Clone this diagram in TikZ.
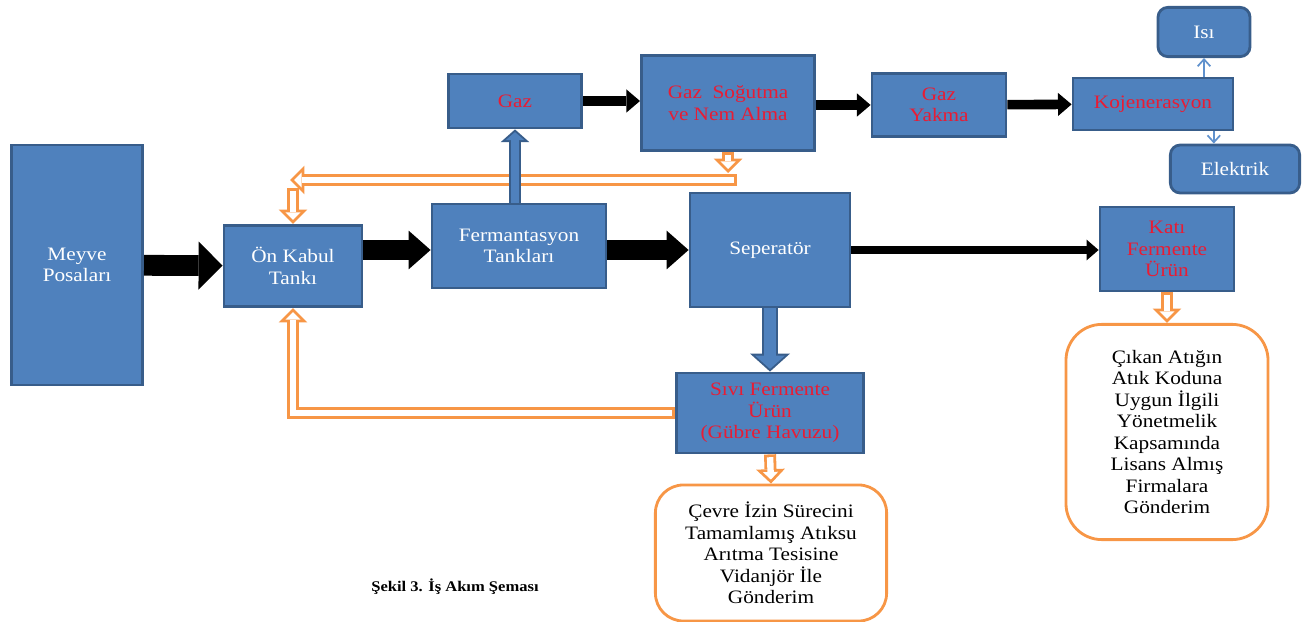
\documentclass[tikz,border=0pt]{standalone}
\usepackage{fontspec}
\setmainfont{Liberation Serif}[FakeStretch=1.12]
\usetikzlibrary{arrows.meta}
\definecolor{boxblue}{RGB}{79,129,189}
\definecolor{boxline}{RGB}{56,93,138}
\definecolor{redtext}{RGB}{232,28,52}
\definecolor{orng}{RGB}{247,150,70}
\definecolor{lightblue}{RGB}{95,145,205}

\begin{document}
\begin{tikzpicture}[x=0.025cm, y=-0.025cm,
		every node/.style={font=\fontsize{13.5}{15.3}\selectfont, align=center, inner sep=2pt},
		box/.style={draw=boxline, fill=boxblue, line width=2pt},
		rbox/.style={box, rounded corners=7pt},
		wtext/.style={text=white},
		rtext/.style={text=redtext},
		outbox/.style={draw=orng, fill=white, line width=2pt, text=black},
		bigarrow/.style={line width=0.52cm, -{Triangle[length=0.6cm,width=1.2cm,line width=0pt]}},
		medarrow/.style={line width=0.48cm, -{Triangle[length=0.55cm,width=0.97cm,line width=0pt]}},
		gasarrow/.style={line width=0.24cm, -{Triangle[length=0.34cm,width=0.58cm,line width=0pt]}},
		thinarrow/.style={line width=0.18cm, -{Triangle[length=0.3cm,width=0.52cm,line width=0pt]}},
		infoarrow/.style={draw=lightblue, line width=1.2pt, -{Straight Barb[length=5pt,width=9pt]}},
		retout/.style={draw=orng, line width=0.3cm, -{Triangle[length=0.36cm,width=0.72cm,line width=0pt]}},
		retin/.style={draw=white, line width=0.16cm, shorten >=0.1cm, shorten <=0.07cm, -{Triangle[length=0.19cm,width=0.38cm,line width=0pt]}},
		gasup/.style={draw=boxline, line width=0.3cm, -{Triangle[length=0.32cm,width=0.72cm,line width=0pt]}},
		gasupin/.style={draw=boxblue, line width=0.2cm, shorten >=0.067cm, -{Triangle[length=0.2cm,width=0.46cm,line width=0pt]}},
		sepdown/.style={draw=boxline, line width=0.4cm, -{Triangle[length=0.45cm,width=1.0cm,line width=0pt]}},
		sepdownin/.style={draw=boxblue, line width=0.3cm, shorten >=0.067cm, -{Triangle[length=0.33cm,width=0.74cm,line width=0pt]}}
	]
	\useasboundingbox (0,0) rectangle (1308,622);

	% main line
	\node[box, wtext, minimum width=3.28cm, minimum height=6cm] (meyve) at (77,265) {Meyve\\Posaları};
	\node[box, wtext, minimum width=3.45cm, minimum height=2.03cm] (onkabul) at (293,266) {Ön Kabul\\Tankı};
	\node[box, wtext, minimum width=4.35cm, minimum height=2.1cm] (ferm) at (519,246) {Fermantasyon\\Tankları};
	\node[box, wtext, minimum width=4cm, minimum height=2.85cm] (sep) at (770,250) {Seperatör};
	\node[box, rtext, minimum width=3.35cm, minimum height=2.1cm] (kati) at (1167,249) {Katı\\Fermente\\Ürün};
	\node[box, rtext, minimum width=4.68cm, minimum height=2cm] (sivi) at (770,413) {Sıvı Fermente\\Ürün\\(Gübre Havuzu)};

	% gas line
	\node[box, rtext, minimum width=3.33cm, minimum height=1.35cm] (gaz) at (515,101) {Gaz};
	\node[box, rtext, minimum width=4.33cm, minimum height=2.38cm] (gazsog) at (728,103) {Gaz\ \ Soğutma\\ve Nem Alma};
	\node[box, rtext, minimum width=3.35cm, minimum height=1.58cm] (yakma) at (939,105) {Gaz\\Yakma};
	\node[box, rtext, minimum width=4cm, minimum height=1.3cm] (kojen) at (1153,104) {Kojenerasyon};
	\node[rbox, wtext, minimum width=2.3cm, minimum height=1.23cm] (isi) at (1204,32) {Isı};
	\node[rbox, wtext, minimum width=3.23cm, minimum height=1.2cm] (elektrik) at (1235,169) {Elektrik};

	% disposal
	\node[outbox, rounded corners=0.7cm, minimum width=5.78cm, minimum height=3.4cm] (cevre) at (771,553) {Çevre İzin Sürecini\\Tamamlamış Atıksu\\Arıtma Tesisine\\Vidanjör İle\\Gönderim};
	\node[outbox, rounded corners=0.9cm, minimum width=5.05cm, minimum height=5.38cm] (cikan) at (1167,432) {Çıkan Atığın\\Atık Koduna\\Uygun İlgili\\Yönetmelik\\Kapsamında\\Lisans Almış\\Firmalara\\Gönderim};

	\node[font=\fontsize{10.5}{12}\selectfont\bfseries] (caption) at (455,587) {Şekil 3. İş Akım Şeması};

	\coordinate (gdrop) at (728,173);
	\coordinate (bandR) at (737,180);
	\coordinate (bandL) at (290,180);
	\coordinate (bandD) at (293,188);

	\draw[bigarrow] (meyve) -- (onkabul);
	\draw[medarrow] (onkabul.east |- 0,250) -- (onkabul.east |- 0,250 -| ferm.west);
	\draw[medarrow] (ferm.east |- sep) -- (sep.west);
	\draw[thinarrow] (sep.east) -- (sep.east -| kati.west);
	\draw[gasarrow] (gaz.east) -- (gaz.east -| gazsog.west);
	\draw[gasarrow] (gazsog.east |- yakma) -- (yakma.west);
	\draw[gasarrow] (yakma) -- (kojen);
	\draw[infoarrow] (isi.south |- kojen.north) -- (isi.south);
	\draw[infoarrow] ([xshift=1.52cm]kojen.south) -- ([xshift=1.52cm]kojen.south |- elektrik.north);

	% hollow return arrows
	\draw[retout] (gazsog.south) -- (gdrop);
	\draw[retin] (gazsog.south) -- (gdrop);
	\draw[retout] (bandR) -- (bandL);
	\draw[retin] (bandR) -- (bandL);
	\draw[retout] (bandD) -- (onkabul.north);
	\draw[retin] (bandD) -- (onkabul.north);
	\draw[retout] (sivi.west) -- (onkabul.south |- sivi.west) -- (onkabul.south);
	\draw[retin] (sivi.west) -- (onkabul.south |- sivi.west) -- (onkabul.south);
	\draw[retout] (sivi.south) -- (cevre.north);
	\draw[retin] (sivi.south) -- (cevre.north);
	\draw[retout] (kati) -- (cikan);
	\draw[retin] (kati) -- (cikan);

	\draw[gasup] (ferm.north -| gaz) -- (gaz.south);
	\draw[gasupin] (ferm.north -| gaz) -- (gaz.south);
	\draw[sepdown] (sep) -- (sivi);
	\draw[sepdownin] (sep) -- (sivi);
\end{tikzpicture}
\end{document}
